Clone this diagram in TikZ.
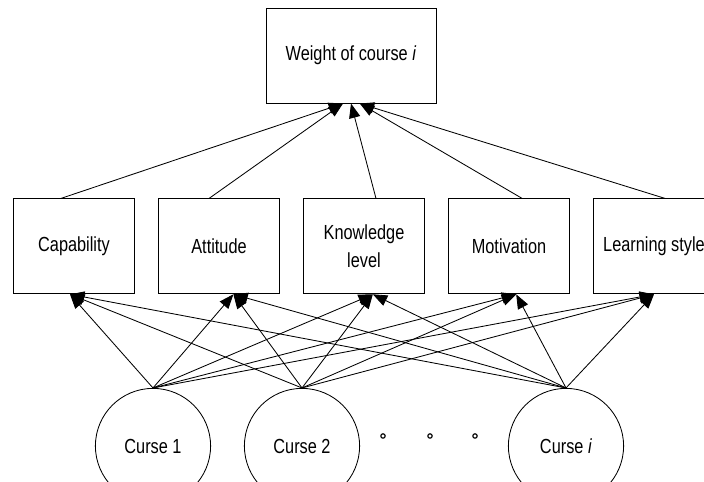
\documentclass[tikz,border=0pt]{standalone}
\usepackage{fontspec}
\setmainfont{Liberation Sans}[FakeStretch=0.8]
\usetikzlibrary{arrows.meta}

\begin{document}
\begin{tikzpicture}[>={Triangle[length=3.6mm,width=2.8mm]},
  box/.style={draw,line width=0.6pt,minimum width=3.025cm,minimum height=2.375cm,align=center,font=\fontsize{14.5}{13.5}\selectfont},
  curse/.style={draw,circle,line width=0.6pt,minimum size=2.88cm,font=\fontsize{14.5}{13.5}\selectfont},
  arr/.style={->,line width=0.6pt}]
\useasboundingbox (0,0) rectangle (17.6,12.05);
% goal
\node[box,minimum width=4.25cm] (weight) at (8.775,10.66) {Weight of course \textit{i}};
% criteria
\node[box] (cap) at (1.85,5.89) {Capability};
\node[box] (att) at (5.475,5.89) {Attitude};
\node[box] (know) at (9.1,5.89) {Knowledge\\[5pt]level};
\node[box] (mot) at (12.725,5.89) {Motivation};
\node[box] (learn) at (16.35,5.89) {Learning style};
% courses
\node[curse] (c1) at (3.825,0.9) {Curse 1};
\node[curse] (c2) at (7.55,0.9) {Curse 2};
\node[curse] (ci) at (14.15,0.9) {Curse \textit{i}};
\foreach \x [count=\k] in {9.575,10.75,11.875}
  \node[draw,circle,line width=0.8pt,inner sep=0pt,minimum size=0.11cm] (dot\k) at (\x,1.15) {};
% criteria -> weight
\foreach \b/\s/\t in {cap/-0.33/-0.2,att/-0.25/-0.2,know/0.3/0,mot/0.33/0.22,learn/0.28/0.22}
  \draw[arr] ([xshift=\s cm]\b.north) -- ([xshift=\t cm]weight.south);
% courses -> criteria
\foreach \c in {c1,c2,ci}
  \foreach \b/\s in {cap/-0.1,att/0.36,know/0.22,mot/0.18,learn/0}
    \draw[arr] (\c.north) -- ([xshift=\s cm]\b.south);
\end{tikzpicture}
\end{document}
